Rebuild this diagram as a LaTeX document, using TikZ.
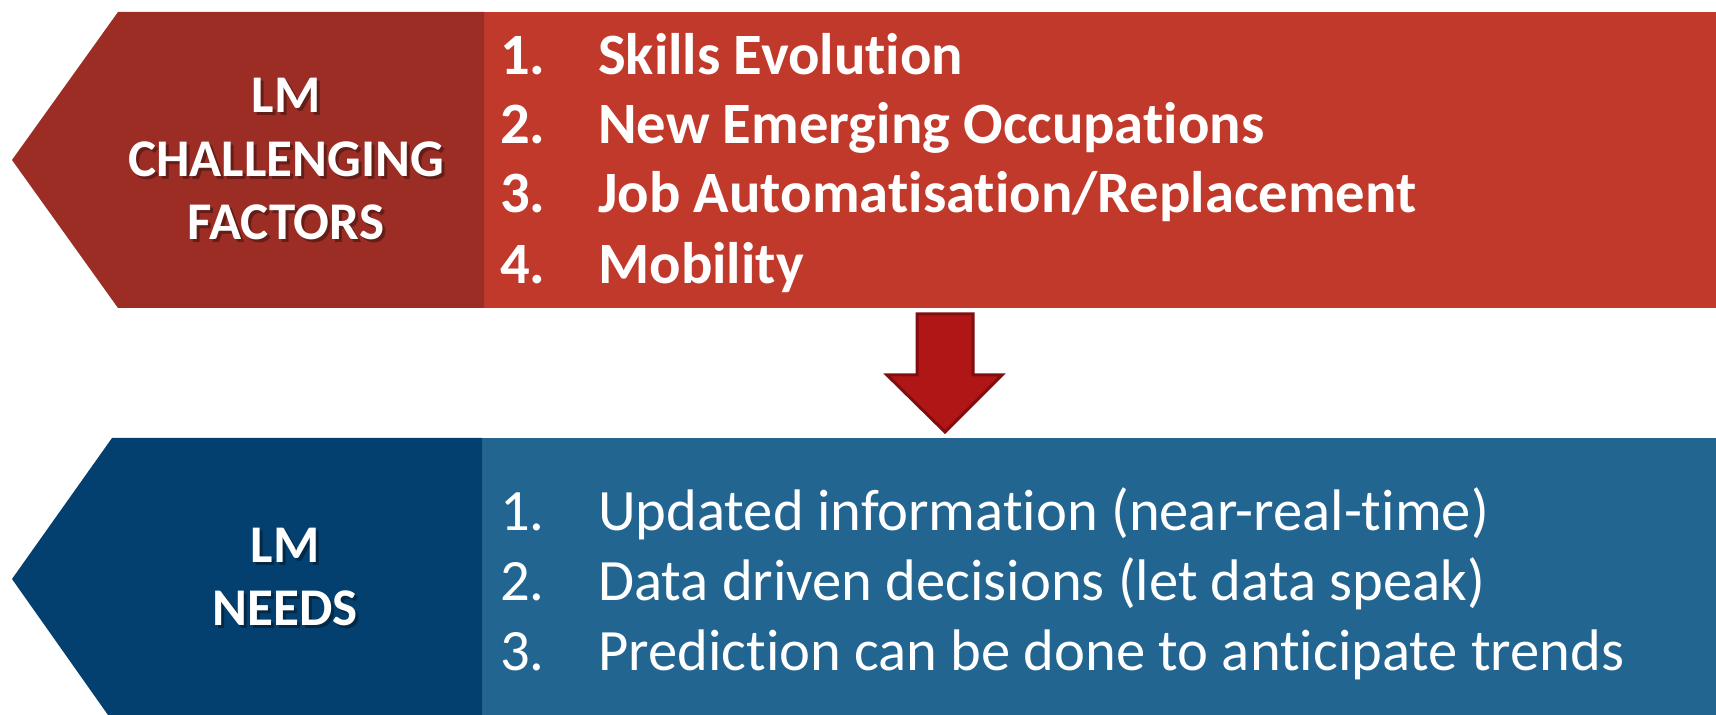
\documentclass[tikz,border=0pt]{standalone}
\usepackage{fontspec}
\setmainfont{Carlito}[RawFeature={-liga;-clig;-calt;-dlig}]

\tikzset{every picture/.style={line width=0.75pt}}

\begin{document}
\begin{tikzpicture}[x=0.5pt,y=0.5pt,yscale=-1,xscale=1]
\useasboundingbox (0,0) rectangle (1716,715);

%Shape: Rectangle [top list]
\draw [draw opacity=0][fill={rgb, 255:red, 192; green, 57; blue, 43 }  ,fill opacity=1 ]   (482,12) -- (1716,12) -- (1716,308) -- (482,308) -- cycle ;
%Shape: Chevron [top label]
\draw [draw opacity=0][fill={rgb, 255:red, 155; green, 45; blue, 36 }  ,fill opacity=1 ]   (118,12) -- (484,12) -- (484,308) -- (118,308) -- (12,160) -- cycle ;
%Shape: Rectangle [bottom list]
\draw [draw opacity=0][fill={rgb, 255:red, 35; green, 101; blue, 145 }  ,fill opacity=1 ]   (480,438) -- (1716,438) -- (1716,715) -- (480,715) -- cycle ;
%Shape: Chevron [bottom label]
\draw [draw opacity=0][fill={rgb, 255:red, 4; green, 64; blue, 111 }  ,fill opacity=1 ]   (112,438) -- (482,438) -- (482,715) -- (108,715) -- (12,579) -- cycle ;
%Shape: Down Arrow
\draw [color={rgb, 255:red, 128; green, 14; blue, 14 }  ,draw opacity=1 ][fill={rgb, 255:red, 176; green, 22; blue, 22 }  ,fill opacity=1 ][line width=1.5pt]   (917,314) -- (973,314) -- (973,375) -- (1002,375) -- (945,432) -- (887,375) -- (917,375) -- cycle ;

% Text Node
\draw (289,116) node [anchor=base][inner sep=0.75pt][black,opacity=0.35]  (shA) {\fontsize{26.5}{26.5}\selectfont\bfseries LM};
\draw (286,113) node [anchor=base][inner sep=0.75pt][white]  (lblA) {\fontsize{26.5}{26.5}\selectfont\bfseries LM};
% Text Node
\draw (289,180) node [anchor=base][inner sep=0.75pt][black,opacity=0.35]  (shB) {\fontsize{26.5}{26.5}\selectfont\bfseries CHALLENGING};
\draw (286,177) node [anchor=base][inner sep=0.75pt][white]  (lblB) {\fontsize{26.5}{26.5}\selectfont\bfseries CHALLENGING};
% Text Node
\draw (289,243) node [anchor=base][inner sep=0.75pt][black,opacity=0.35]  (shC) {\fontsize{26.5}{26.5}\selectfont\bfseries FACTORS};
\draw (286,240) node [anchor=base][inner sep=0.75pt][white]  (lblC) {\fontsize{26.5}{26.5}\selectfont\bfseries FACTORS};
% Text Node
\draw (288,565) node [anchor=base][inner sep=0.75pt][black,opacity=0.35]  (shD) {\fontsize{26.5}{26.5}\selectfont\bfseries LM};
\draw (285,562) node [anchor=base][inner sep=0.75pt][white]  (lblD) {\fontsize{26.5}{26.5}\selectfont\bfseries LM};
% Text Node
\draw (288,628) node [anchor=base][inner sep=0.75pt][black,opacity=0.35]  (shE) {\fontsize{26.5}{26.5}\selectfont\bfseries NEEDS};
\draw (285,625) node [anchor=base][inner sep=0.75pt][white]  (lblE) {\fontsize{26.5}{26.5}\selectfont\bfseries NEEDS};

% Text Node
\draw (498,75) node [anchor=base west][inner sep=0.75pt][white]  (numA) {\fontsize{29.3}{29.3}\selectfont\bfseries 1.};
\draw (596,75) node [anchor=base west][inner sep=0.75pt][white]  (itemA) {\fontsize{29.3}{29.3}\selectfont\bfseries Skills Evolution};
% Text Node
\draw (498,144) node [anchor=base west][inner sep=0.75pt][white]  (numB) {\fontsize{29.3}{29.3}\selectfont\bfseries 2.};
\draw (596,144) node [anchor=base west][inner sep=0.75pt][white]  (itemB) {\fontsize{29.3}{29.3}\selectfont\bfseries New Emerging Occupations};
% Text Node
\draw (498,213) node [anchor=base west][inner sep=0.75pt][white]  (numC) {\fontsize{29.3}{29.3}\selectfont\bfseries 3.};
\draw (596,213) node [anchor=base west][inner sep=0.75pt][white]  (itemC) {\fontsize{29.3}{29.3}\selectfont\bfseries Job Automatisation/Replacement};
% Text Node
\draw (498,284) node [anchor=base west][inner sep=0.75pt][white]  (numD) {\fontsize{29.3}{29.3}\selectfont\bfseries 4.};
\draw (596,284) node [anchor=base west][inner sep=0.75pt][white]  (itemD) {\fontsize{29.3}{29.3}\selectfont\bfseries Mobility};

% Text Node
\draw (498,530) node [anchor=base west][inner sep=0.75pt][white]  (numE) {\fontsize{29.3}{29.3}\selectfont 1.};
\draw (596,530) node [anchor=base west][inner sep=0.75pt][white]  (itemE) {\fontsize{29.3}{29.3}\selectfont Updated information (near-real-time)};
% Text Node
\draw (498,600) node [anchor=base west][inner sep=0.75pt][white]  (numF) {\fontsize{29.3}{29.3}\selectfont 2.};
\draw (596,600) node [anchor=base west][inner sep=0.75pt][white]  (itemF) {\fontsize{29.3}{29.3}\selectfont Data driven decisions (let data speak)};
% Text Node
\draw (498,670) node [anchor=base west][inner sep=0.75pt][white]  (numG) {\fontsize{29.3}{29.3}\selectfont 3.};
\draw (596,670) node [anchor=base west][inner sep=0.75pt][white]  (itemG) {\fontsize{29.3}{29.3}\selectfont Prediction can be done to anticipate trends};
\end{tikzpicture}
\end{document}
